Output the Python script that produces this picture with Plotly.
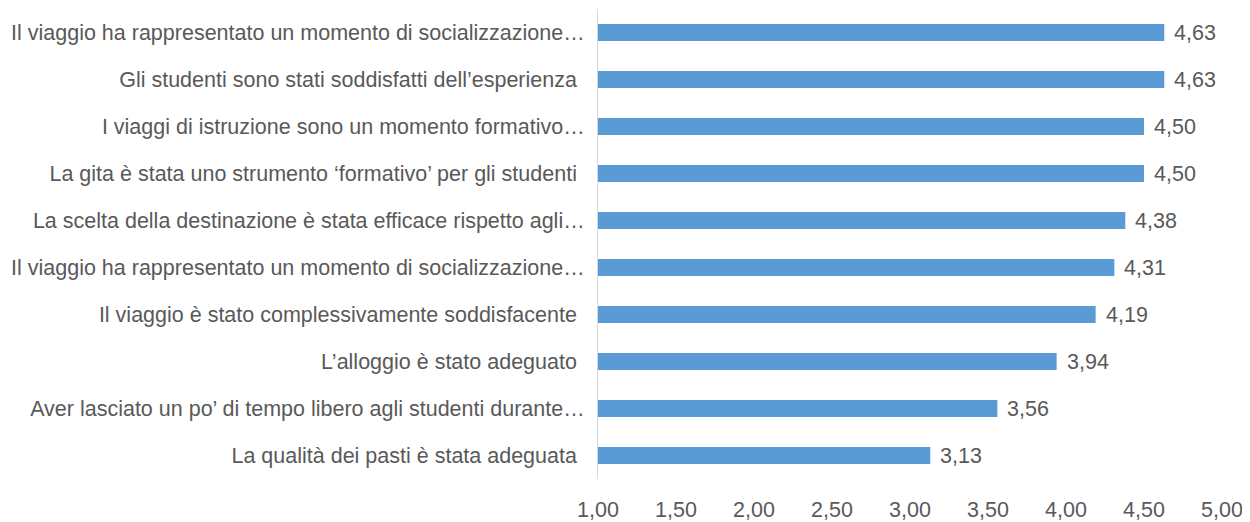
import plotly.graph_objects as go

PAD = "\u00a0\u200a"
categories = [
    "Il viaggio ha rappresentato un momento di socializzazione…",
    "Gli studenti sono stati soddisfatti dell’esperienza" + PAD,
    "I viaggi di istruzione sono un momento formativo…",
    "La gita è stata uno strumento ‘formativo’ per gli studenti" + PAD,
    "La scelta della destinazione è stata efficace rispetto agli…",
    "Il viaggio ha rappresentato un momento di socializzazione…\u200b",
    "Il viaggio è stato complessivamente soddisfacente" + PAD,
    "L’alloggio è stato adeguato" + PAD,
    "Aver lasciato un po’ di tempo libero agli studenti durante…",
    "La qualità dei pasti è stata adeguata" + PAD,
]
values = [4.63, 4.63, 4.50, 4.50, 4.38, 4.31, 4.19, 3.94, 3.56, 3.13]
value_labels = ["4,63", "4,63", "4,50", "4,50", "4,38", "4,31", "4,19", "3,94", "3,56", "3,13"]
tick_vals = [1.0, 1.5, 2.0, 2.5, 3.0, 3.5, 4.0, 4.5, 5.0]
tick_text = ["1,00", "1,50", "2,00", "2,50", "3,00", "3,50", "4,00", "4,50", "5,00"]
base_value = 1.0

FONT = "Liberation Sans, Arial, sans-serif"
TEXT_COLOR = "#595959"
FS = 21.5

fig = go.Figure()
fig.add_trace(go.Bar(
    y=categories,
    x=[v - base_value for v in values],
    base=base_value,
    orientation="h",
    marker=dict(color="#5B9BD5", line=dict(width=0)),
    hoverinfo="skip",
))

for c, v, t in zip(categories, values, value_labels):
    fig.add_annotation(x=v, y=c, text=t, showarrow=False, xanchor="left",
                       xshift=8, font=dict(family=FONT, size=FS, color=TEXT_COLOR))

fig.update_layout(
    width=1242, height=514,
    margin=dict(l=590, r=28, t=1, b=43),
    paper_bgcolor="white", plot_bgcolor="white",
    bargap=0.64,
    showlegend=False,
    font=dict(family=FONT, size=FS, color=TEXT_COLOR),
)
fig.update_xaxes(range=[1.0, 5.0], tickvals=tick_vals, ticktext=tick_text,
                 showgrid=False, zeroline=False, showline=False,
                 ticks="", ticklabelstandoff=15, automargin=False,
                 tickfont=dict(family=FONT, size=FS, color=TEXT_COLOR))
fig.update_yaxes(autorange="reversed", showgrid=False, zeroline=False,
                 showline=True, linecolor="#D9D9D9", linewidth=1,
                 ticks="", ticklabelstandoff=8, automargin=False,
                 tickfont=dict(family=FONT, size=FS, color=TEXT_COLOR))

fig.write_html("out.html")
